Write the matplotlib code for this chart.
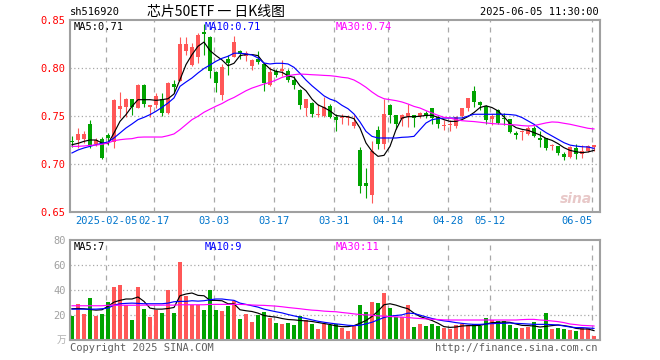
import matplotlib
matplotlib.use('Agg')
import matplotlib.pyplot as plt
import numpy as np

plt.rcParams['font.family'] = ['DejaVu Sans Mono', 'Noto Sans CJK SC']
plt.rcParams['axes.unicode_minus'] = False

# 交易日 (2025)
dates = ['01-20', '01-21', '01-22', '01-23', '01-24', '01-27',
         '02-05', '02-06', '02-07', '02-10', '02-11', '02-12', '02-13', '02-14',
         '02-17', '02-18', '02-19', '02-20', '02-21', '02-24', '02-25', '02-26', '02-27', '02-28',
         '03-03', '03-04', '03-05', '03-06', '03-07', '03-10', '03-11', '03-12', '03-13', '03-14',
         '03-17', '03-18', '03-19', '03-20', '03-21', '03-24', '03-25', '03-26', '03-27', '03-28',
         '03-31', '04-01', '04-02', '04-03', '04-07', '04-08', '04-09', '04-10', '04-11',
         '04-14', '04-15', '04-16', '04-17', '04-18', '04-21', '04-22', '04-23', '04-24', '04-25',
         '04-28', '04-29', '04-30', '05-06', '05-07', '05-08', '05-09',
         '05-12', '05-13', '05-14', '05-15', '05-16', '05-19', '05-20', '05-21', '05-22', '05-23',
         '05-26', '05-27', '05-28', '05-29', '05-30', '06-03', '06-04', '06-05']

open_ = [0.724, 0.725, 0.726, 0.742, 0.721, 0.726, 0.730, 0.723, 0.757, 0.759,
         0.768, 0.758, 0.782, 0.759, 0.761, 0.768, 0.753, 0.783, 0.786, 0.818,
         0.803, 0.811, 0.837, 0.832, 0.796, 0.772, 0.809, 0.811, 0.818, 0.812,
         0.802, 0.809, 0.804, 0.782, 0.797, 0.797, 0.797, 0.787, 0.777, 0.758,
         0.764, 0.751, 0.750, 0.760, 0.749, 0.748, 0.748, 0.740, 0.715, 0.680,
         0.668, 0.735, 0.721, 0.761, 0.751, 0.747, 0.749, 0.751, 0.750, 0.753,
         0.758, 0.749, 0.740, 0.741, 0.740, 0.750, 0.758, 0.776, 0.765, 0.760,
         0.747, 0.756, 0.748, 0.747, 0.732, 0.733, 0.731, 0.737, 0.727, 0.727,
         0.719, 0.719, 0.710, 0.707, 0.717, 0.710, 0.714, 0.718]
high = [0.729, 0.737, 0.734, 0.746, 0.727, 0.728, 0.732, 0.768, 0.775, 0.769,
        0.768, 0.783, 0.783, 0.761, 0.774, 0.774, 0.785, 0.788, 0.832, 0.832,
        0.826, 0.836, 0.846, 0.833, 0.797, 0.804, 0.814, 0.833, 0.819, 0.818,
        0.809, 0.818, 0.805, 0.801, 0.799, 0.808, 0.799, 0.792, 0.778, 0.768,
        0.765, 0.762, 0.770, 0.762, 0.752, 0.752, 0.751, 0.751, 0.718, 0.696,
        0.724, 0.740, 0.768, 0.762, 0.751, 0.752, 0.762, 0.751, 0.754, 0.755,
        0.758, 0.750, 0.746, 0.746, 0.750, 0.758, 0.769, 0.781, 0.766, 0.761,
        0.752, 0.757, 0.753, 0.747, 0.734, 0.735, 0.740, 0.740, 0.734, 0.727,
        0.721, 0.719, 0.712, 0.719, 0.721, 0.720, 0.720, 0.720]
low = [0.718, 0.717, 0.722, 0.717, 0.719, 0.705, 0.720, 0.717, 0.748, 0.749,
       0.751, 0.758, 0.759, 0.749, 0.758, 0.750, 0.752, 0.774, 0.786, 0.814,
       0.802, 0.805, 0.814, 0.790, 0.775, 0.767, 0.793, 0.811, 0.809, 0.807,
       0.798, 0.804, 0.776, 0.781, 0.791, 0.792, 0.785, 0.778, 0.757, 0.750,
       0.749, 0.749, 0.749, 0.748, 0.734, 0.742, 0.741, 0.737, 0.670, 0.665,
       0.659, 0.716, 0.716, 0.743, 0.736, 0.740, 0.739, 0.739, 0.748, 0.748,
       0.742, 0.738, 0.735, 0.734, 0.738, 0.748, 0.755, 0.759, 0.756, 0.742,
       0.741, 0.742, 0.741, 0.732, 0.726, 0.725, 0.730, 0.728, 0.718, 0.715,
       0.715, 0.709, 0.704, 0.706, 0.705, 0.706, 0.713, 0.714]
close = [0.723, 0.731, 0.731, 0.719, 0.725, 0.706, 0.727, 0.767, 0.760, 0.768,
         0.759, 0.782, 0.762, 0.761, 0.771, 0.753, 0.784, 0.780, 0.825, 0.825,
         0.822, 0.834, 0.835, 0.797, 0.784, 0.801, 0.805, 0.827, 0.815, 0.816,
         0.808, 0.806, 0.784, 0.796, 0.793, 0.799, 0.787, 0.782, 0.761, 0.768,
         0.752, 0.7515, 0.759, 0.749, 0.746, 0.7485, 0.7485, 0.744, 0.677, 0.677,
         0.714, 0.721, 0.752, 0.751, 0.742, 0.751, 0.753, 0.748, 0.753, 0.750,
         0.748, 0.742, 0.7405, 0.7415, 0.749, 0.758, 0.769, 0.765, 0.761, 0.746,
         0.750, 0.743, 0.747, 0.733, 0.730, 0.734, 0.738, 0.729, 0.725, 0.717,
         0.720, 0.711, 0.707, 0.718, 0.710, 0.714, 0.719, 0.720]
# 成交量(万)
volume = [19.3, 29.0, 20.9, 33.8, 19.3, 20.9, 30.6, 42.7, 44.3, 27.9,
          16.1, 42.7, 25.0, 18.5, 24.2, 21.7, 40.3, 21.7, 62.8, 35.4,
          27.9, 27.9, 24.2, 40.3, 24.2, 23.4, 27.4, 31.4, 16.9, 20.9,
          14.5, 20.1, 22.6, 17.7, 13.7, 12.9, 13.7, 12.1, 19.3, 16.1,
          12.9, 8.9, 12.9, 12.1, 12.9, 9.7, 7.2, 11.3, 28.2, 22.6,
          30.6, 29.8, 37.9, 25.8, 18.5, 18.5, 28.2, 10.5, 12.9, 11.3,
          12.9, 11.3, 10.0, 8.5, 12.0, 12.5, 12.0, 12.8, 11.5, 17.9,
          16.0, 15.5, 15.5, 12.0, 9.9, 9.9, 10.7, 14.1, 8.5, 21.6,
          8.8, 9.9, 9.1, 8.3, 7.5, 9.9, 9.9, 3.5]

# 均线
ma5 = [0.7201, 0.7215, 0.7236, 0.7250, 0.7250, 0.7219, 0.7212, 0.7323, 0.7444, 0.7514,
       0.7600, 0.7670, 0.7670, 0.7670, 0.7663, 0.7670, 0.7680, 0.7729, 0.7878, 0.8035,
       0.8139, 0.8226, 0.8270, 0.8181, 0.8129, 0.8084, 0.8024, 0.8049, 0.8129, 0.8140,
       0.8140, 0.8129, 0.8049, 0.7990, 0.7965, 0.7955, 0.7920, 0.7902, 0.7815, 0.7763,
       0.7676, 0.7616, 0.7588, 0.7553, 0.7505, 0.7497, 0.7493, 0.7472, 0.7375, 0.7219,
       0.7132, 0.7080, 0.7090, 0.7184, 0.7358, 0.7479, 0.7493, 0.7493, 0.7497, 0.7507,
       0.7507, 0.7486, 0.7462, 0.7444, 0.7444, 0.7462, 0.7494, 0.7536, 0.7588, 0.7606,
       0.7588, 0.7553, 0.7491, 0.7421, 0.7379, 0.7361, 0.7351, 0.7327, 0.7302, 0.7267,
       0.7246, 0.7212, 0.7170, 0.7142, 0.7128, 0.7118, 0.7125, 0.7142]
ma10 = [0.7115, 0.7146, 0.7167, 0.7184, 0.7201, 0.7215, 0.7229, 0.7271, 0.7323, 0.7375,
        0.7417, 0.7462, 0.7486, 0.7514, 0.7549, 0.7590, 0.7635, 0.7688, 0.7809, 0.7854,
        0.7896, 0.7948, 0.7995, 0.8031, 0.8070, 0.8101, 0.8122, 0.8154, 0.8154, 0.8147,
        0.8136, 0.8105, 0.8052, 0.8042, 0.8049, 0.8049, 0.8042, 0.8007, 0.7944, 0.7874,
        0.7815, 0.7763, 0.7710, 0.7676, 0.7655, 0.7611, 0.7576, 0.7521, 0.7438, 0.7340,
        0.7288, 0.7271, 0.7271, 0.7271, 0.7271, 0.7278, 0.7281, 0.7288, 0.7358, 0.7427,
        0.7462, 0.7472, 0.7479, 0.7479, 0.7479, 0.7479, 0.7499, 0.7518, 0.7518, 0.7518,
        0.7518, 0.7518, 0.7518, 0.7515, 0.7508, 0.7484, 0.7449, 0.7414, 0.7368, 0.7327,
        0.7292, 0.7257, 0.7222, 0.7197, 0.7187, 0.7180, 0.7177, 0.7163]
ma30 = [0.7184, 0.7184, 0.7188, 0.7194, 0.7198, 0.7205, 0.7219, 0.7243, 0.7253, 0.7260,
        0.7264, 0.7278, 0.7281, 0.7281, 0.7281, 0.7281, 0.7295, 0.7313, 0.7358, 0.7410,
        0.7462, 0.7497, 0.7539, 0.7571, 0.7602, 0.7630, 0.7665, 0.7693, 0.7728, 0.7763,
        0.7791, 0.7812, 0.7833, 0.7850, 0.7874, 0.7902, 0.7920, 0.7930, 0.7937, 0.7934,
        0.7930, 0.7927, 0.7923, 0.7920, 0.7913, 0.7903, 0.7896, 0.7875, 0.7840, 0.7799,
        0.7750, 0.7708, 0.7680, 0.7670, 0.7660, 0.7646, 0.7625, 0.7600, 0.7583, 0.7556,
        0.7531, 0.7507, 0.7486, 0.7479, 0.7462, 0.7451, 0.7446, 0.7442, 0.7435, 0.7428,
        0.7421, 0.7417, 0.7414, 0.7410, 0.7407, 0.7400, 0.7396, 0.7400, 0.7414, 0.7428,
        0.7438, 0.7435, 0.7424, 0.7414, 0.7400, 0.7386, 0.7372, 0.7365]
vma5 = [25.0, 25.2, 25.0, 24.4, 23.9, 24.2, 26.9, 30.3, 31.7, 32.8,
        32.8, 34.4, 30.9, 25.5, 24.7, 24.7, 25.2, 26.0, 35.4, 36.8,
        37.6, 35.7, 35.4, 31.7, 31.7, 31.4, 29.0, 29.0, 24.2, 23.4,
        22.8, 21.5, 19.6, 18.8, 18.3, 17.2, 16.4, 16.1, 15.6, 15.3,
        14.8, 14.0, 13.2, 12.4, 11.3, 10.7, 10.7, 11.5, 13.4, 15.6,
        18.8, 23.1, 28.2, 29.0, 27.9, 26.3, 25.0, 21.5, 18.8, 17.2,
        15.6, 13.4, 10.7, 10.1, 10.4, 11.2, 11.5, 11.5, 11.7, 12.8,
        13.9, 14.1, 14.4, 14.1, 12.8, 11.7, 11.5, 11.2, 10.4, 10.9,
        11.5, 12.0, 11.5, 10.7, 9.3, 8.8, 8.8, 7.5]
vma10 = [24.7, 24.7, 24.7, 24.7, 24.7, 25.0, 25.5, 27.9, 29.0, 29.3,
         29.5, 29.3, 29.0, 29.0, 29.0, 29.0, 29.5, 30.6, 30.9, 30.9,
         31.4, 31.1, 31.4, 32.2, 32.8, 32.8, 32.2, 31.7, 29.5, 28.5,
         27.4, 26.3, 24.7, 23.6, 22.6, 21.7, 20.4, 19.3, 18.2, 17.2,
         16.1, 15.0, 14.2, 13.5, 12.9, 12.4, 11.8, 11.5, 11.8, 12.9,
         14.2, 16.1, 18.0, 19.1, 19.6, 20.1, 21.5, 21.2, 19.9, 18.5,
         17.2, 16.1, 15.3, 14.7, 13.9, 13.3, 12.8, 12.5, 12.5, 12.8,
         13.1, 13.3, 13.3, 13.6, 13.3, 13.1, 12.8, 12.5, 12.5, 12.5,
         12.3, 12.0, 11.2, 10.4, 9.9, 9.9, 9.6, 9.3]
vma30 = [27.4, 27.4, 27.4, 27.4, 27.4, 27.4, 27.8, 27.8, 27.8, 27.8,
         27.8, 27.8, 27.9, 27.9, 27.9, 27.9, 27.9, 27.9, 28.2, 28.2,
         28.2, 28.2, 28.2, 28.5, 28.5, 28.5, 28.5, 28.5, 28.5, 28.3,
         28.0, 27.8, 27.7, 27.4, 27.1, 26.6, 26.0, 25.5, 25.0, 24.4,
         23.9, 23.6, 23.1, 22.8, 22.6, 22.0, 21.5, 20.9, 20.4, 20.1,
         19.9, 19.3, 19.1, 18.8, 18.5, 18.3, 18.0, 17.5, 17.2, 16.9,
         16.6, 16.4, 16.1, 16.0, 16.0, 16.0, 16.0, 16.0, 16.0, 16.0,
         16.0, 16.0, 16.0, 16.0, 16.0, 16.3, 16.5, 16.5, 16.0, 15.7,
         15.2, 14.7, 13.9, 12.8, 12.3, 11.7, 11.5, 11.2]

tick_dates = ['02-05', '02-17', '03-03', '03-17', '03-31', '04-14', '04-28', '05-12', '06-05']
tick_labels = ['2025-02-05', '02-17', '03-03', '03-17', '03-31', '04-14', '04-28', '05-12', '06-05']
price_ticks = [0.85, 0.80, 0.75, 0.70, 0.65]
vol_ticks = [80, 60, 40, 20]

RED = '#ff5757'
GREEN = '#00a300'
GRID = '#a8a8a8'
W, H = 660, 360


def fx(px):
    return px / W


def fy(py):
    return 1 - py / H


x = np.arange(len(dates))
o = np.array(open_)
c = np.array(close)
colors = [RED if c[i] >= o[i] else GREEN for i in range(len(x))]

fig = plt.figure(figsize=(6.6, 3.6), dpi=100)
ax1 = fig.add_axes([fx(70), fy(212), fx(530), 192 / H])
ax2 = fig.add_axes([fx(70), fy(340), fx(530), 100 / H])

tick_idx = [dates.index(d) for d in tick_dates]

for ax in (ax1, ax2):
    ax.set_xlim(-0.33, len(x))
    for s in ax.spines.values():
        s.set_color('#a0a0a0')
        s.set_linewidth(1.5)
    ax.set_xticks([])
    ax.tick_params(axis='y', length=0, pad=3, labelsize=7.5)
    for t in tick_idx:
        ax.axvline(t - 0.25, color=GRID, lw=0.9, ls=(0, (4, 4)), zorder=0)

# K线
ax1.set_ylim(0.65, 0.85)
ax1.set_yticks(price_ticks)
ax1.set_yticklabels(['%.2f' % v for v in price_ticks])
ax1.tick_params(axis='y', labelcolor='red')
for v in price_ticks[1:-1]:
    ax1.axhline(v, color=GRID, lw=0.9, ls=(0, (1, 2)), zorder=0)
body_bottom = np.minimum(o, c)
body_h = np.maximum(np.abs(c - o), 0.0008)
ax1.vlines(x, low, high, colors=colors, lw=0.8, zorder=2)
ax1.bar(x, body_h, bottom=body_bottom, width=0.8, color=colors, linewidth=0, zorder=3)
ax1.plot(x, ma5, color='black', lw=0.85, zorder=4)
ax1.plot(x, ma10, color='blue', lw=0.85, zorder=4)
ax1.plot(x, ma30, color='magenta', lw=0.85, zorder=4)

for t, lab in zip(tick_idx, tick_labels):
    ha = 'right' if t == len(x) - 1 else 'center'
    ax1.text(t - 0.25, -0.047, lab, transform=ax1.get_xaxis_transform(), ha=ha, va='center',
             color='#0075cc', fontsize=7.5)

ax1.text(0.985, 0.03, 'sina', transform=ax1.transAxes, ha='right', va='bottom', color='#e8c8c8',
         fontsize=10, fontweight='bold', style='italic', family='DejaVu Sans', zorder=1)

# 成交量
ax2.set_ylim(0, 80)
ax2.set_yticks(vol_ticks)
ax2.tick_params(axis='y', labelcolor='#a0a0a0')
for v in vol_ticks[1:]:
    ax2.axhline(v, color=GRID, lw=0.9, ls=(0, (1, 2)), zorder=0)
ax2.bar(x, volume, width=0.8, color=colors, linewidth=0, zorder=2)
ax2.plot(x, vma5, color='black', lw=0.85, zorder=3)
ax2.plot(x, vma10, color='blue', lw=0.85, zorder=3)
ax2.plot(x, vma30, color='magenta', lw=0.85, zorder=3)

# 文字
fig.text(fx(70), fy(12), 'sh516920', ha='left', va='center', fontsize=7.5)
fig.text(fx(216), fy(12), '芯片50ETF 一 日K线图', ha='center', va='center', fontsize=10,
         family=['Noto Sans CJK SC', 'DejaVu Sans'])
fig.text(fx(599), fy(12), '2025-06-05 11:30:00', ha='right', va='center', fontsize=7.5)

fig.text(fx(74), fy(27), 'MA5:0.71', ha='left', va='center', fontsize=7.5, color='black')
fig.text(fx(205), fy(27), 'MA10:0.71', ha='left', va='center', fontsize=7.5, color='blue')
fig.text(fx(336), fy(27), 'MA30:0.74', ha='left', va='center', fontsize=7.5, color='magenta')
fig.text(fx(74), fy(247), 'MA5:7', ha='left', va='center', fontsize=7.5, color='black')
fig.text(fx(205), fy(247), 'MA10:9', ha='left', va='center', fontsize=7.5, color='blue')
fig.text(fx(336), fy(247), 'MA30:11', ha='left', va='center', fontsize=7.5, color='magenta')

fig.text(fx(66), fy(340), '万', ha='right', va='center', fontsize=7, color='#b0b0b0',
         family=['Noto Sans CJK SC', 'DejaVu Sans'])
fig.text(fx(70), fy(348), 'Copyright 2025 SINA.COM', ha='left', va='center', fontsize=7.5, color='#606060')
fig.text(fx(598), fy(348), 'http://finance.sina.com.cn', ha='right', va='center', fontsize=7.5,
         color='#606060')

fig.savefig('out.png', dpi=100)
